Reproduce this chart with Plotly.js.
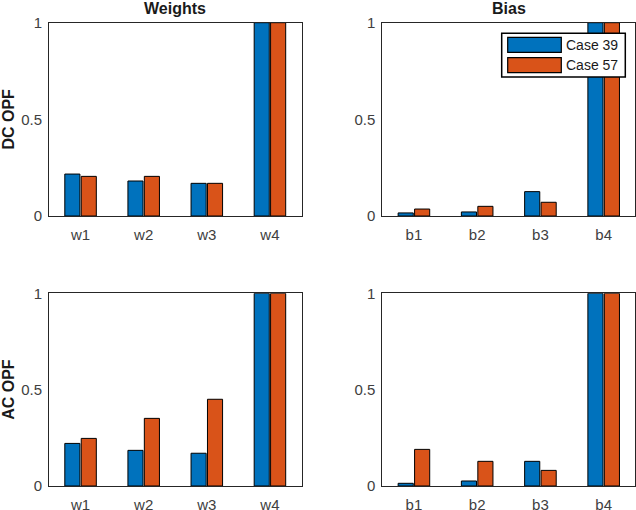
<!DOCTYPE html>
<html>
<head>
<meta charset="utf-8">
<script src="https://cdn.plot.ly/plotly-3.0.1.min.js"></script>
<style>html,body{margin:0;padding:0;background:#fff;}#chart{width:636px;height:510px;}</style>
</head>
<body>
<div id="chart"></div>
<script>
var weightLabels = ['w1', 'w2', 'w3', 'w4'];
var biasLabels = ['b1', 'b2', 'b3', 'b4'];
var seriesNames = ['Case 39', 'Case 57'];
var dcWeights39 = [0.217, 0.181, 0.169, 1.0];
var dcWeights57 = [0.205, 0.205, 0.169, 1.0];
var dcBias39 = [0.016, 0.021, 0.126, 1.0];
var dcBias57 = [0.036, 0.050, 0.071, 1.0];
var acWeights39 = [0.221, 0.185, 0.170, 1.0];
var acWeights57 = [0.247, 0.351, 0.450, 1.0];
var acBias39 = [0.014, 0.026, 0.128, 1.0];
var acBias57 = [0.190, 0.128, 0.081, 1.0];
var panelTitles = ['Weights', 'Bias'];
var rowTitles = ['DC OPF', 'AC OPF'];

var colors = ['#0072BD', '#D95319'];
var FONT = 'Liberation Sans, Arial, sans-serif';

function bar(x, y, k, xa, ya) {
  return {type: 'bar', x: x, y: y, name: seriesNames[k], xaxis: xa, yaxis: ya,
    marker: {color: colors[k], line: {color: '#000000', width: 1}}, showlegend: false,
    hoverinfo: 'x+y'};
}

var data = [
  bar(weightLabels, dcWeights39, 0, 'x', 'y'),
  bar(weightLabels, dcWeights57, 1, 'x', 'y'),
  bar(biasLabels, dcBias39, 0, 'x2', 'y2'),
  bar(biasLabels, dcBias57, 1, 'x2', 'y2'),
  bar(weightLabels, acWeights39, 0, 'x3', 'y3'),
  bar(weightLabels, acWeights57, 1, 'x3', 'y3'),
  bar(biasLabels, acBias39, 0, 'x4', 'y4'),
  bar(biasLabels, acBias57, 1, 'x4', 'y4')
];

var W = 636, H = 510;
function px(x) { return x / W; }
function py(y) { return 1 - y / H; }

var xDomL = [px(49), px(301.5)];
var xDomR = [px(382.3), px(635.3)];
var yDomT = [py(216), py(22.7)];
var yDomB = [py(486), py(293.3)];

function xax(dom, anchor) {
  return {domain: dom, anchor: anchor, type: 'category', range: [-0.5, 3.5],
    showline: true, mirror: true, linecolor: '#262626', linewidth: 1,
    ticks: 'outside', ticklen: 5, tickcolor: 'rgba(0,0,0,0)',
    showgrid: false, zeroline: false, fixedrange: true,
    tickfont: {family: FONT, size: 15, color: '#404040'}};
}
function yax(dom, anchor, title) {
  var a = {domain: dom, anchor: anchor, range: [0, 1],
    tickvals: [0, 0.5, 1], ticktext: ['0', '0.5', '1'],
    showline: true, mirror: true, linecolor: '#262626', linewidth: 1,
    ticks: 'outside', ticklen: 3, tickcolor: 'rgba(0,0,0,0)',
    showgrid: false, zeroline: false, fixedrange: true,
    tickfont: {family: FONT, size: 15, color: '#404040'}};
  if (title) {
    a.title = {text: '<b>' + title + '</b>', standoff: 4,
      font: {family: FONT, size: 16, color: '#1a1a1a'}};
  }
  return a;
}

var shapes = [];
var annotations = [];
panelTitles.forEach(function (t, i) {
  var dom = i === 0 ? xDomL : xDomR;
  annotations.push({text: '<b>' + t + '</b>', xref: 'paper', yref: 'paper',
    x: (dom[0] + dom[1]) / 2, y: py(8.5), xanchor: 'center', yanchor: 'middle',
    showarrow: false, font: {family: FONT, size: 16, color: '#1a1a1a'}});
});

// legend (top-right panel)
shapes.push({type: 'rect', xref: 'paper', yref: 'paper',
  x0: px(501.7), x1: px(625.3), y0: py(77), y1: py(33.3),
  fillcolor: '#ffffff', line: {color: '#000000', width: 1.5}, layer: 'above'});
var swY = [[37.3, 52.3], [57.7, 72.7]];
seriesNames.forEach(function (n, k) {
  shapes.push({type: 'rect', xref: 'paper', yref: 'paper',
    x0: px(507.7), x1: px(561.3), y0: py(swY[k][1]), y1: py(swY[k][0]),
    fillcolor: colors[k], line: {color: '#000000', width: 1.2}, layer: 'above'});
  annotations.push({text: n, xref: 'paper', yref: 'paper',
    x: px(564), y: py((swY[k][0] + swY[k][1]) / 2), xanchor: 'left', yanchor: 'middle',
    showarrow: false, font: {family: FONT, size: 14, color: '#1a1a1a'}});
});

var layout = {
  width: W, height: H,
  margin: {l: 0, r: 0, t: 0, b: 0},
  paper_bgcolor: '#ffffff', plot_bgcolor: '#ffffff',
  barmode: 'group', bargap: 0.48, bargroupgap: 0.08,
  showlegend: false,
  xaxis: xax(xDomL, 'y'),
  yaxis: yax(yDomT, 'x', rowTitles[0]),
  xaxis2: xax(xDomR, 'y2'),
  yaxis2: yax(yDomT, 'x2'),
  xaxis3: xax(xDomL, 'y3'),
  yaxis3: yax(yDomB, 'x3', rowTitles[1]),
  xaxis4: xax(xDomR, 'y4'),
  yaxis4: yax(yDomB, 'x4'),
  shapes: shapes,
  annotations: annotations
};

Plotly.newPlot('chart', data, layout, {displayModeBar: false, staticPlot: true});
</script>
</body>
</html>
